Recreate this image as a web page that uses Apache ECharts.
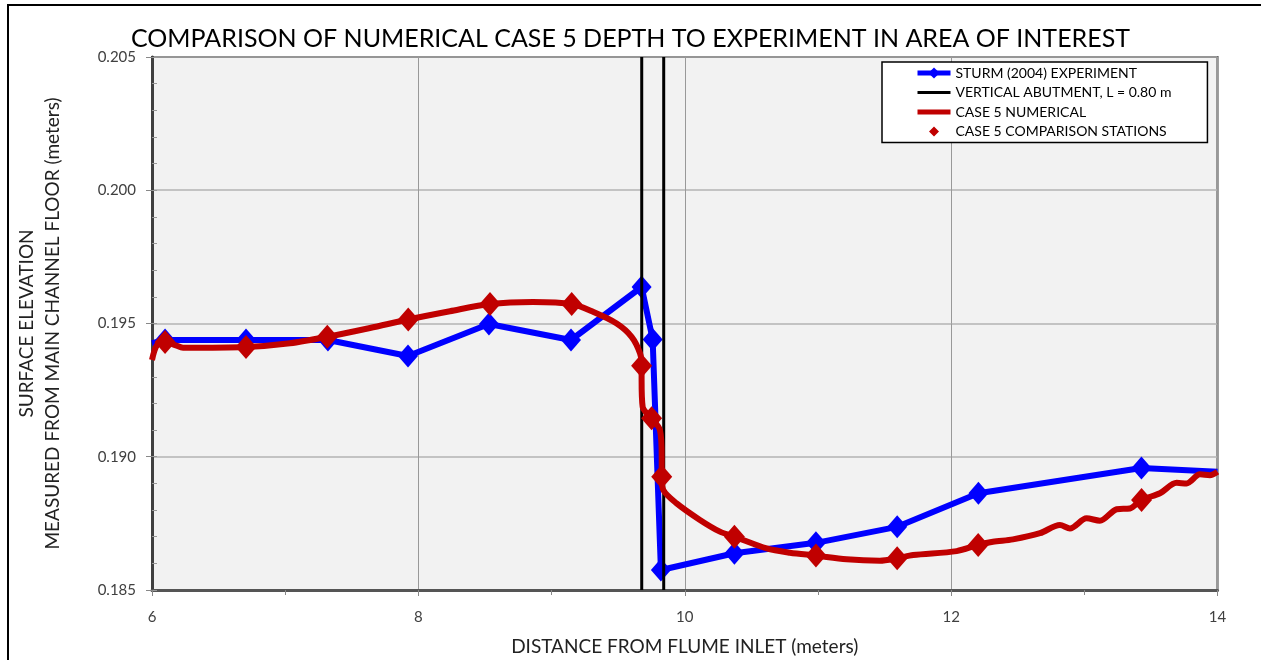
<!DOCTYPE html>
<html>
<head>
<meta charset="utf-8">
<script src="https://cdn.jsdelivr.net/npm/echarts@6/dist/echarts.min.js"></script>
<style>
  html, body { margin: 0; padding: 0; background: #fff; }
  #chart { width: 1261px; height: 660px; }
</style>
</head>
<body>
<div id="chart"></div>
<script>
// STURM (2004) experiment points (first/last are line ends without markers)
var sturmX = [6.0, 6.098, 6.706, 7.321, 7.922, 8.530, 9.146, 9.676, 9.759, 9.821, 10.373, 10.985, 11.595, 12.205, 13.429, 14.0];
var sturmY = [0.19426, 0.19438, 0.19438, 0.19438, 0.19378, 0.19498, 0.19438, 0.19637, 0.19440, 0.18575, 0.18638, 0.18677, 0.18737, 0.18863, 0.18958, 0.18944];

// vertical abutment faces
var abutX = [9.677, 9.842];

// case 5 numerical profile
var numX = [6.000, 6.038, 6.098, 6.173, 6.233, 6.706, 7.036, 7.316, 7.637, 7.924, 8.237, 8.538, 8.860, 9.151, 9.311, 9.489, 9.601, 9.664, 9.676, 9.676, 9.684, 9.714, 9.751, 9.814, 9.827, 9.827, 9.839, 9.939, 10.114, 10.264, 10.373, 10.615, 10.790, 10.985, 11.215, 11.465, 11.595, 11.715, 12.041, 12.203, 12.314, 12.464, 12.667, 12.817, 12.892, 13.017, 13.117, 13.243, 13.342, 13.430, 13.568, 13.693, 13.768, 13.868, 13.943, 14.000];
var numY = [0.19363, 0.19419, 0.19431, 0.19419, 0.19409, 0.19412, 0.19426, 0.19450, 0.19483, 0.19515, 0.19546, 0.19573, 0.19581, 0.19573, 0.19544, 0.19500, 0.19450, 0.19388, 0.19341, 0.19288, 0.19187, 0.19163, 0.19144, 0.19100, 0.19000, 0.18925, 0.18875, 0.18825, 0.18763, 0.18719, 0.18700, 0.18656, 0.18640, 0.18629, 0.18615, 0.18610, 0.18619, 0.18631, 0.18646, 0.18669, 0.18681, 0.18690, 0.18713, 0.18744, 0.18731, 0.18769, 0.18760, 0.18803, 0.18806, 0.18838, 0.18863, 0.18902, 0.18900, 0.18934, 0.18931, 0.18944];

// case 5 comparison stations
var stationX = [6.098, 6.706, 7.316, 7.924, 8.538, 9.151, 9.676, 9.751, 9.827, 10.373, 10.985, 11.595, 12.203, 13.430];
var stationY = [0.19431, 0.19412, 0.19450, 0.19515, 0.19573, 0.19573, 0.19341, 0.19144, 0.18925, 0.18700, 0.18629, 0.18619, 0.18669, 0.18838];

var yTicks = ['0.185', '0.190', '0.195', '0.200', '0.205'];

var font = 'Lato, "Open Sans", sans-serif';

var sturmData = sturmX.map(function (x, i) {
  var item = { value: [x, sturmY[i]] };
  if (i === 0 || i === sturmX.length - 1) item.symbol = 'none';
  return item;
});
var numData = numX.map(function (x, i) { return [x, numY[i]]; });
var stationData = stationX.map(function (x, i) { return [x, stationY[i]]; });

var yMin = Number(yTicks[0]), yMax = Number(yTicks[yTicks.length - 1]);

// legend icon: small diamond inside a 33x14 box (corner specks fix the box)
var smallDiamond = 'path://M0,0L0.01,0L0,0.01Z M33,14L32.99,14L33,13.99Z M16.5,2L21.5,7L16.5,12L11.5,7Z';
var noSymbol = { color: 'rgba(0,0,0,0)', borderWidth: 0 };

function abutSeries(x) {
  return {
    name: 'VERTICAL ABUTMENT, L = 0.80 m',
    type: 'line',
    z: 3,
    symbol: 'none',
    lineStyle: { color: '#000', width: 3 },
    itemStyle: { color: '#000' },
    data: [[x, yMin], [x, yMax]]
  };
}

var chart = echarts.init(document.getElementById('chart'));
var option = {
  animation: false,
  textStyle: { fontFamily: font },
  title: {
    text: 'COMPARISON OF NUMERICAL CASE 5 DEPTH TO EXPERIMENT IN AREA OF INTEREST',
    left: 'center',
    top: 21,
    textStyle: { fontFamily: font, fontSize: 25, fontWeight: 'normal', color: '#000' }
  },
  graphic: [{
    type: 'rect',
    shape: { x: 8, y: 5, width: 1300, height: 700 },
    style: { fill: 'none', stroke: '#000', lineWidth: 2 },
    silent: true
  }],
  legend: {
    orient: 'vertical',
    left: 882,
    top: 62,
    backgroundColor: '#fff',
    borderColor: '#000',
    borderWidth: 1.5,
    borderRadius: 0,
    padding: [4, 36, 4, 33],
    itemGap: 5.5,
    itemWidth: 33,
    itemHeight: 14,
    textStyle: { fontFamily: font, fontSize: 14, color: '#000' },
    data: [
      { name: 'STURM (2004) EXPERIMENT', lineStyle: { width: 5 }, itemStyle: { borderWidth: 0 } },
      { name: 'VERTICAL ABUTMENT, L = 0.80 m', lineStyle: { width: 3 }, itemStyle: noSymbol },
      { name: 'CASE 5 NUMERICAL', lineStyle: { width: 5 }, itemStyle: noSymbol },
      { name: 'CASE 5 COMPARISON STATIONS', icon: smallDiamond }
    ]
  },
  grid: {
    left: 152, top: 57, right: 43.5, bottom: 70,
    outerBoundsMode: 'none',
    containLabel: false,
    show: true,
    backgroundColor: '#f2f2f2',
    borderColor: '#404040',
    borderWidth: 2
  },
  xAxis: {
    type: 'value',
    min: 6, max: 14, interval: 2,
    name: 'DISTANCE FROM FLUME INLET (meters)',
    nameLocation: 'middle',
    nameGap: 47,
    nameTextStyle: { fontFamily: font, fontSize: 19, color: '#222' },
    axisLine: { lineStyle: { color: '#555', width: 3 } },
    axisTick: { show: true, length: 6, lineStyle: { color: '#888' } },
    minorTick: { show: true, splitNumber: 2, length: 5, lineStyle: { color: '#888' } },
    axisLabel: { fontFamily: font, fontSize: 15, color: '#404040', margin: 20 },
    splitLine: { show: true, lineStyle: { color: '#999', width: 1 } }
  },
  yAxis: [{
    type: 'value',
    min: yMin, max: yMax, interval: 0.005,
    name: 'SURFACE ELEVATION\nMEASURED FROM MAIN CHANNEL FLOOR (meters)',
    nameLocation: 'middle',
    nameGap: 86,
    nameTextStyle: { fontFamily: font, fontSize: 19, color: '#222', lineHeight: 26 },
    axisLine: { show: true, lineStyle: { color: '#404040', width: 3 } },
    axisTick: { show: true, length: 6, lineStyle: { color: '#888' } },
    axisLabel: {
      fontFamily: font, fontSize: 15, color: '#404040', margin: 16,
      formatter: function (v) { return v.toFixed(3); }
    },
    splitLine: { show: true, lineStyle: { color: '#b3b3b3', width: 1.5 } }
  }, {
    // inside minor ticks
    type: 'value',
    position: 'left',
    min: yMin, max: yMax, interval: 0.001,
    axisLine: { show: false },
    axisTick: { show: true, inside: true, length: 5, lineStyle: { color: '#999' } },
    axisLabel: { show: false },
    splitLine: { show: false }
  }],
  series: [{
    name: 'STURM (2004) EXPERIMENT',
    type: 'line',
    z: 2,
    symbol: 'diamond',
    symbolSize: [20, 23],
    lineStyle: { color: '#0000ff', width: 6 },
    itemStyle: { color: '#0000ff' },
    data: sturmData
  },
  abutSeries(abutX[0]),
  abutSeries(abutX[1]),
  {
    name: 'CASE 5 NUMERICAL',
    type: 'line',
    z: 4,
    symbol: 'none',
    smooth: 0.3,
    lineStyle: { color: '#c00000', width: 6 },
    itemStyle: { color: '#c00000' },
    data: numData
  }, {
    name: 'CASE 5 COMPARISON STATIONS',
    type: 'scatter',
    z: 5,
    symbol: 'diamond',
    symbolSize: [21, 24],
    itemStyle: { color: '#c00000', opacity: 1 },
    data: stationData
  }]
};
chart.setOption(option);
</script>
</body>
</html>
